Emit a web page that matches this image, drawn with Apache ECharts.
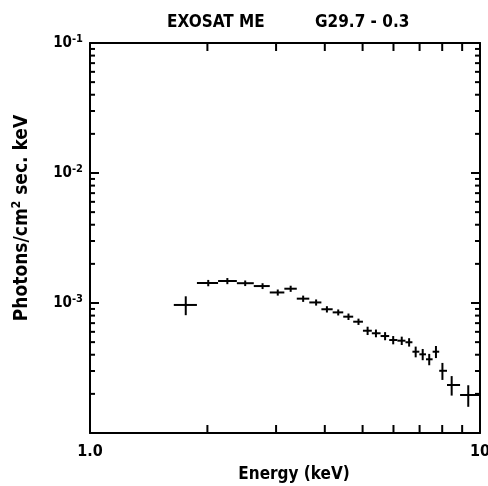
<!DOCTYPE html>
<html>
<head>
    <meta charset="UTF-8">
    <title>EXOSAT ME G29.7 - 0.3</title>
    <style>
        html, body { margin: 0; padding: 0; background: #fff; }
        #chart { width: 488px; height: 486px; }
    </style>
    <script src="https://cdn.jsdelivr.net/npm/echarts@6.0.0/dist/echarts.min.js"></script>
</head>
<body>
    <div id="chart"></div>
    <script>
        // spectrum points (energy in keV, flux in photons/cm2 s keV)
        var energy   = [1.76, 2.01, 2.25, 2.50, 2.77, 3.03, 3.27, 3.52, 3.80, 4.05, 4.33, 4.60, 4.88,
                        5.15, 5.41, 5.71, 5.99, 6.30, 6.58, 6.84, 7.13, 7.41, 7.71, 8.01, 8.46, 9.33];
        var energyLo = [1.64, 1.88, 2.13, 2.38, 2.63, 2.89, 3.15, 3.39, 3.65, 3.92, 4.19, 4.46, 4.73,
                        5.01, 5.28, 5.56, 5.85, 6.14, 6.44, 6.71, 6.99, 7.27, 7.56, 7.86, 8.23, 8.89];
        var energyHi = [1.88, 2.13, 2.38, 2.63, 2.89, 3.15, 3.39, 3.65, 3.92, 4.19, 4.46, 4.73, 5.01,
                        5.28, 5.56, 5.85, 6.14, 6.44, 6.71, 6.99, 7.27, 7.56, 7.86, 8.23, 8.89, 9.95];
        var flux     = [9.66e-4, 1.425e-3, 1.476e-3, 1.42e-3, 1.35e-3, 1.205e-3, 1.288e-3, 1.08e-3, 1.01e-3,
                        8.95e-4, 8.47e-4, 7.85e-4, 7.18e-4, 6.12e-4, 5.85e-4, 5.57e-4, 5.19e-4, 5.13e-4,
                        4.99e-4, 4.22e-4, 4.03e-4, 3.69e-4, 4.22e-4, 3.01e-4, 2.34e-4, 1.96e-4];
        var fluxErr  = [1.6e-4, 0.8e-4, 0.8e-4, 0.7e-4, 0.7e-4, 0.65e-4, 0.7e-4, 0.6e-4, 0.55e-4,
                        0.5e-4, 0.45e-4, 0.45e-4, 0.4e-4, 0.45e-4, 0.4e-4, 0.4e-4, 0.38e-4, 0.38e-4,
                        0.37e-4, 0.4e-4, 0.4e-4, 0.37e-4, 0.45e-4, 0.45e-4, 0.4e-4, 0.37e-4];

        // axis ranges and tick values
        var xMin = 1, xMax = 10;
        var yMin = 1e-4, yMax = 1e-1;
        var xMinorTicks = [2, 3, 4, 5, 6, 7, 8, 9];
        var yMinorTicks = [2e-4, 3e-4, 4e-4, 5e-4, 6e-4, 7e-4, 8e-4, 9e-4,
                           2e-3, 3e-3, 4e-3, 5e-3, 6e-3, 7e-3, 8e-3, 9e-3,
                           2e-2, 3e-2, 4e-2, 5e-2, 6e-2, 7e-2, 8e-2, 9e-2];
        var yMajorTicks = [1e-3, 1e-2];

        var FONT = '"DejaVu Sans Condensed", "DejaVu Sans", sans-serif';

        var points = energy.map(function (e, i) {
            return [e, flux[i], energyLo[i], energyHi[i], flux[i] - fluxErr[i], flux[i] + fluxErr[i]];
        });

        var chart = echarts.init(document.getElementById('chart'), null, { renderer: 'canvas' });

        var lineStyle = { stroke: '#000', lineWidth: 2 };

        var option = {
            backgroundColor: '#fff',
            animation: false,
            title: [
                { text: 'EXOSAT ME', left: 167, top: 14, padding: 0,
                  textStyle: { fontFamily: FONT, fontWeight: 'bold', fontSize: 17, color: '#000' } },
                { text: 'G29.7 - 0.3', left: 315, top: 14, padding: 0,
                  textStyle: { fontFamily: FONT, fontWeight: 'bold', fontSize: 17, color: '#000' } }
            ],
            grid: { left: 90, right: 8, top: 43, bottom: 53, outerBoundsMode: 'none', containLabel: false },
            xAxis: [
                {
                    type: 'log', logBase: 10, min: xMin, max: xMax, position: 'bottom',
                    axisLine: { lineStyle: { color: '#000', width: 2 } },
                    axisTick: { show: false },
                    splitLine: { show: false },
                    axisLabel: {
                        color: '#000', fontFamily: FONT, fontWeight: 'bold', fontSize: 16, margin: 11,
                        showMinLabel: true, showMaxLabel: true,
                        formatter: function (v) { return v < 5 ? '1.0' : '10'; }
                    },
                    name: 'Energy (keV)', nameLocation: 'middle', nameGap: 33,
                    nameTextStyle: { color: '#000', fontFamily: FONT, fontWeight: 'bold', fontSize: 17,
                                     padding: [0, 0, 0, 18] }
                },
                {
                    type: 'log', logBase: 10, min: xMin, max: xMax, position: 'top',
                    axisLine: { lineStyle: { color: '#000', width: 2 } },
                    axisTick: { show: false }, axisLabel: { show: false }, splitLine: { show: false }
                }
            ],
            yAxis: [
                {
                    type: 'log', logBase: 10, min: yMin, max: yMax, position: 'left',
                    axisLine: { lineStyle: { color: '#000', width: 2 } },
                    axisTick: { show: false },
                    splitLine: { show: false },
                    axisLabel: {
                        margin: 7,
                        formatter: function (v) {
                            var e = Math.round(Math.log10(v));
                            if (e === -4) return '';
                            return '{b|10}{s|' + e + '}';
                        },
                        rich: {
                            b: { color: '#000', fontFamily: FONT, fontWeight: 'bold', fontSize: 15 },
                            s: { color: '#000', fontFamily: FONT, fontWeight: 'bold', fontSize: 11,
                                 verticalAlign: 'top', padding: [0, 0, 7, 0] }
                        }
                    },
                    name: 'Photons/cm{s|2} sec. keV', nameLocation: 'middle', nameGap: 57,
                    nameTextStyle: {
                        padding: [0, 0, 0, 40],
                        rich: {
                            s: { color: '#000', fontFamily: FONT, fontWeight: 'bold', fontSize: 12,
                                 padding: [0, 0, 10, 0] }
                        },
                        color: '#000', fontFamily: FONT, fontWeight: 'bold', fontSize: 19
                    }
                },
                {
                    type: 'log', logBase: 10, min: yMin, max: yMax, position: 'right',
                    axisLine: { lineStyle: { color: '#000', width: 2 } },
                    axisTick: { show: false }, axisLabel: { show: false }, splitLine: { show: false }
                }
            ],
            series: [
                {
                    // minor ticks on the bottom and top axes
                    type: 'custom', xAxisIndex: 0, yAxisIndex: 0, silent: true,
                    data: xMinorTicks,
                    renderItem: function (params, api) {
                        var v = api.value(0);
                        var b = api.coord([v, yMin]);
                        var t = api.coord([v, yMax]);
                        return { type: 'group', children: [
                            { type: 'line', shape: { x1: b[0], y1: b[1], x2: b[0], y2: b[1] - 8 }, style: lineStyle },
                            { type: 'line', shape: { x1: t[0], y1: t[1], x2: t[0], y2: t[1] + 8 }, style: lineStyle }
                        ] };
                    }
                },
                {
                    // minor ticks on the left and right axes
                    type: 'custom', xAxisIndex: 0, yAxisIndex: 0, silent: true,
                    data: yMinorTicks.map(function (v) { return [xMin, v]; }),
                    renderItem: function (params, api) {
                        var v = api.value(1);
                        var l = api.coord([xMin, v]);
                        var r = api.coord([xMax, v]);
                        return { type: 'group', children: [
                            { type: 'line', shape: { x1: l[0], y1: l[1], x2: l[0] + 5, y2: l[1] }, style: lineStyle },
                            { type: 'line', shape: { x1: r[0], y1: r[1], x2: r[0] - 5, y2: r[1] }, style: lineStyle }
                        ] };
                    }
                },
                {
                    // decade ticks on the left and right axes
                    type: 'custom', xAxisIndex: 0, yAxisIndex: 0, silent: true,
                    data: yMajorTicks.map(function (v) { return [xMin, v]; }),
                    renderItem: function (params, api) {
                        var v = api.value(1);
                        var l = api.coord([xMin, v]);
                        var r = api.coord([xMax, v]);
                        return { type: 'group', children: [
                            { type: 'line', shape: { x1: l[0], y1: l[1], x2: l[0] + 9, y2: l[1] }, style: lineStyle },
                            { type: 'line', shape: { x1: r[0], y1: r[1], x2: r[0] - 9, y2: r[1] }, style: lineStyle }
                        ] };
                    }
                },
                {
                    // data points as crosses (energy bin and flux error)
                    type: 'custom', xAxisIndex: 0, yAxisIndex: 0,
                    data: points,
                    renderItem: function (params, api) {
                        var c = api.coord([api.value(0), api.value(1)]);
                        var lo = api.coord([api.value(2), api.value(1)]);
                        var hi = api.coord([api.value(3), api.value(1)]);
                        var dn = api.coord([api.value(0), api.value(4)]);
                        var up = api.coord([api.value(0), api.value(5)]);
                        return { type: 'group', children: [
                            { type: 'line', shape: { x1: lo[0], y1: c[1], x2: hi[0], y2: c[1] }, style: lineStyle },
                            { type: 'line', shape: { x1: c[0], y1: dn[1], x2: c[0], y2: up[1] }, style: lineStyle }
                        ] };
                    }
                }
            ]
        };

        chart.setOption(option);
    </script>
</body>
</html>
